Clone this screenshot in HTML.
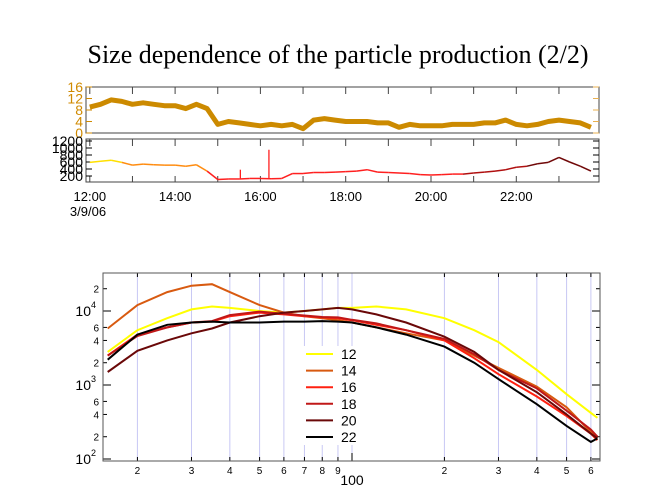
<!DOCTYPE html>
<html><head><meta charset="utf-8"><style>
body{margin:0;background:#fff}
svg{display:block;font-family:"Liberation Sans",sans-serif}
</style></head><body>
<svg id="c" width="667" height="500" viewBox="0 0 667 500">
<text x="338" y="63" text-anchor="middle" font-family="Liberation Serif,serif" font-size="26">Size dependence of the particle production (2/2)</text>
<g id="topg"></g><g id="botg"></g>
</svg>
<script>
// ---- time series data (15-min steps from 12:00) ----
const tsHours = [];
for (let i=0;i<48;i++) tsHours.push(12+i*0.25);
const upperVals = [9,10,11.5,11,10,10.5,10,9.5,9.5,8.5,10,8.5,3,4,3.5,3,2.5,3,2.5,3,1.5,4.5,5,4.5,4,4,4,3.5,3.5,2,3,2.5,2.5,2.5,3,3,3,3.5,3.5,4.5,3,2.5,3,4,4.5,4,3.5,2];
const lowerVals = [590,620,650,590,510,540,520,510,510,480,520,340,100,115,115,130,130,120,130,270,270,300,300,310,325,340,380,310,300,285,270,240,230,240,255,255,285,310,340,380,450,480,550,590,730,600,480,340];
const spikeHours = [15.53,16.2];
const spikeVals = [380,950];
const timeTicks = ["12:00","14:00","16:00","18:00","20:00","22:00"];
const upperTicks = [0,4,8,12,16];
const lowerTicks = [200,400,600,800,1000,1200];

// ---- size distribution data ----
const sizes = [16,20,25,30,35,40,50,60,70,80,90,100,120,150,200,250,300,400,500,600,630];
const s12 = [2800,5500,8000,10500,11500,11000,10000,9500,10000,10500,11000,11000,11500,10500,8000,5500,3800,1600,750,420,360];
const s14 = [5800,12000,18000,22000,23000,18000,12000,9500,8500,8000,7500,7000,6000,5000,4000,2500,1700,950,500,230,200];
const s16 = [2500,4800,6000,7000,7200,8500,9500,9000,8500,8200,8000,7500,6500,5500,4000,2300,1400,700,380,220,180];
const s18 = [2500,4600,6000,7000,7300,8800,9800,9200,8700,8300,8200,7600,6800,5500,4200,2600,1600,900,450,250,200];
const s20 = [1500,2900,4000,5000,5800,7000,8500,9500,10000,10500,11000,10500,9000,7000,4500,2800,1600,800,400,220,190];
const s22 = [2200,4800,6500,7000,7200,7000,7000,7200,7200,7300,7200,7000,6000,4800,3300,2000,1200,550,280,170,190];
const seriesLabels = ["12","14","16","18","20","22"];
const seriesColors = ["#ffff00","#d85a10","#ff2010","#c01818","#6a0808","#000000"];
const xTickVals = [20,30,40,50,60,70,80,90,200,300,400,500,600];
const xTickLabels = ["2","3","4","5","6","7","8","9","2","3","4","5","6"];
const yMajor = [100,1000,10000];
const yMinor = [200,400,600,2000,4000,6000,20000];
const yMinorLabels = ["2","4","6","2","4","6","2"];

const NS="http://www.w3.org/2000/svg";
function mk(p,t,a){const e=document.createElementNS(NS,t);for(const k in a)e.setAttribute(k,a[k]);p.appendChild(e);return e;}
const topG=document.getElementById('topg'), botG=document.getElementById('botg');

const L=86,R=599;
const tx=h=>431+(h-20)*42.65;
const uy=v=>133-v*(133-87)/16;
const ly=v=>176-(v-200)*(176-141)/1000;
let e;
e=mk(topG,'rect',{x:L,y:87,width:R-L,height:46,fill:'none',stroke:'#444','stroke-width':1});


e=mk(topG,'rect',{x:L,y:139,width:R-L,height:43,fill:'none',stroke:'#444','stroke-width':1});


for(let h=12;h<=23;h++){const x=tx(h);
 mk(topG,'line',{x1:x,x2:x,y1:87,y2:94,stroke:'#444'});
 mk(topG,'line',{x1:x,x2:x,y1:139,y2:146,stroke:'#444'});mk(topG,'line',{x1:x,x2:x,y1:182,y2:176,stroke:'#444'});}
timeTicks.forEach((t,i)=>{const x=tx(12+2*i);
 e=mk(topG,'text',{x:x,y:201,'text-anchor':'middle','font-size':13});e.textContent=t;
 
 });
e=mk(topG,'text',{x:88,y:216,'text-anchor':'middle','font-size':13});e.textContent='3/9/06';


upperTicks.forEach(v=>{const y=uy(v);
 mk(topG,'line',{x1:L,x2:L+6,y1:y,y2:y,stroke:'#d08a00'});mk(topG,'line',{x1:R,x2:R-6,y1:y,y2:y,stroke:'#e8b050'});
 e=mk(topG,'text',{x:L-3,y:y+5,'text-anchor':'end','font-size':14,fill:'#d08a00'});e.textContent=v;
 
 });
lowerTicks.forEach(v=>{const y=ly(v);
 mk(topG,'line',{x1:L,x2:L+6,y1:y,y2:y,stroke:'#000'});mk(topG,'line',{x1:R,x2:R-6,y1:y,y2:y,stroke:'#000'});
 e=mk(topG,'text',{x:L-3,y:y+5,'text-anchor':'end','font-size':14});e.textContent=v;
 
 });
let d=upperVals.map((v,i)=>(i?'L':'M')+tx(tsHours[i]).toFixed(1)+','+uy(v).toFixed(1)).join('');
e=mk(topG,'path',{d:d,fill:'none',stroke:'#cc8a00','stroke-width':5,'stroke-linejoin':'round'});


function lcol(h){return h<13?'#ffe000':h<15?'#ff8c10':h<21?'#ff2020':h<22.5?'#b01010':'#700808';}
for(let i=1;i<lowerVals.length;i++){
 e=mk(topG,'line',{x1:tx(tsHours[i-1]),y1:ly(lowerVals[i-1]),x2:tx(tsHours[i]),y2:ly(lowerVals[i]),stroke:lcol(tsHours[i]),'stroke-width':1.5});
 
 }
spikeHours.forEach((h,i)=>{e=mk(topG,'line',{x1:tx(h),x2:tx(h),y1:ly(130),y2:ly(spikeVals[i]),stroke:'#ff2020','stroke-width':1.3});
 
 });

const BL=103,BR=600,BT=273,BB=461;
const sx=v=>352+(Math.log10(v)-2)*307;
const sy=v=>311-(Math.log10(v)-4)*74;
xTickVals.concat([100]).forEach(v=>{const x=sx(v);
 e=mk(botG,'line',{x1:x,x2:x,y1:BT,y2:BB,stroke:'#c8c8f4','stroke-width':1});
 
 });
e=mk(botG,'rect',{x:300,y:346,width:68,height:99,fill:'#fff'});
xTickVals.forEach((v,i)=>{const x=sx(v);
 mk(botG,'line',{x1:x,x2:x,y1:BB,y2:BB-4,stroke:'#000'});mk(botG,'line',{x1:x,x2:x,y1:BT,y2:BT+4,stroke:'#000'});
 e=mk(botG,'text',{x:x,y:BB+13,'text-anchor':'middle','font-size':10});e.textContent=xTickLabels[i];
 
 });
mk(botG,'line',{x1:sx(100),x2:sx(100),y1:BB,y2:BB-8,stroke:'#000'});
e=mk(botG,'text',{x:sx(100),y:BB+24,'text-anchor':'middle','font-size':14});e.textContent='100';


yMajor.forEach(v=>{const y=sy(v);
 mk(botG,'line',{x1:BL,x2:BL+8,y1:y,y2:y,stroke:'#000'});mk(botG,'line',{x1:BR,x2:BR-8,y1:y,y2:y,stroke:'#000'});
 e=mk(botG,'text',{x:BL-12,y:y+5,'text-anchor':'end','font-size':14});e.textContent='10';
 
 
 e=mk(botG,'text',{x:BL-12,y:y-3,'font-size':9});e.textContent=Math.round(Math.log10(v));});
yMinor.forEach((v,i)=>{const y=sy(v);
 mk(botG,'line',{x1:BL,x2:BL+4,y1:y,y2:y,stroke:'#000'});mk(botG,'line',{x1:BR,x2:BR-4,y1:y,y2:y,stroke:'#000'});
 e=mk(botG,'text',{x:BL-4,y:y+4,'text-anchor':'end','font-size':10});e.textContent=yMinorLabels[i];
 
 });
e=mk(botG,'rect',{x:BL,y:BT,width:BR-BL,height:BB-BT,fill:'none',stroke:'#555','stroke-width':1});


[s12,s14,s16,s18,s20,s22].forEach((s,k)=>{
 const dd=s.map((v,i)=>(i?'L':'M')+sx(sizes[i]).toFixed(1)+','+sy(v).toFixed(1)).join('');
 e=mk(botG,'path',{d:dd,fill:'none',stroke:seriesColors[k],'stroke-width':2});
 
 
 const y=354+k*16.6;
 e=mk(botG,'line',{x1:306,x2:333,y1:y,y2:y,stroke:seriesColors[k],'stroke-width':2});
 
 
 e=mk(botG,'text',{x:341,y:y+5,'font-size':14});e.textContent=seriesLabels[k];
 
 });
</script>
</body></html>
